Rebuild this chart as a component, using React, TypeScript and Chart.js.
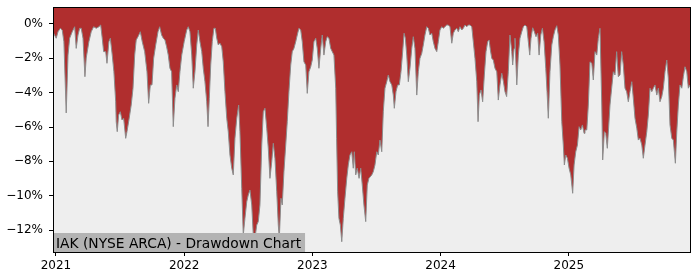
import { useEffect, useRef } from 'react';
import { Chart, registerables } from 'chart.js';
Chart.register(...registerables);

// Time in decimal years, drawdown in percent
const t2021 = [2020.977,2021.002,2021.016,2021.034,2021.049,2021.062,2021.080,2021.094,2021.107,2021.127,2021.146,2021.158,2021.172,2021.185,2021.197,2021.211,2021.226,2021.236,2021.257,2021.275,2021.294,2021.314,2021.335,2021.349,2021.361,2021.372,2021.388,2021.398,2021.413,2021.424,2021.439,2021.452,2021.466,2021.470,2021.478,2021.489,2021.502,2021.515,2021.528,2021.544,2021.554,2021.569,2021.587,2021.601,2021.614,2021.626,2021.640,2021.658,2021.673,2021.692,2021.710,2021.723,2021.736,2021.749,2021.762,2021.778,2021.796,2021.809,2021.824,2021.837,2021.850,2021.863,2021.876,2021.889,2021.902,2021.915,2021.928,2021.942,2021.954,2021.967,2021.981];
const d2021 = [-0.47,-0.83,-0.45,-0.25,-0.35,-1.03,-5.18,-1.81,-0.83,-0.45,-0.16,-1.42,-0.64,-0.25,-0.25,-0.83,-3.07,-1.98,-1.03,-0.45,-0.16,-0.25,-0.16,-0.06,-0.83,-1.61,-1.61,-2.29,-1.03,-0.83,-1.81,-2.78,-4.53,-5.69,-6.27,-5.30,-5.11,-5.59,-5.49,-6.66,-6.27,-5.59,-4.72,-3.74,-1.81,-0.93,-0.74,-0.45,-1.03,-1.61,-2.78,-4.62,-3.55,-3.55,-2.00,-1.22,-0.45,-0.16,-0.64,-0.83,-0.93,-1.32,-1.81,-2.58,-2.78,-5.98,-4.33,-3.55,-3.94,-2.78,-1.81];

const t2022 = [2022.000,2022.020,2022.032,2022.045,2022.059,2022.071,2022.084,2022.098,2022.110,2022.123,2022.137,2022.149,2022.162,2022.176,2022.186,2022.196,2022.207,2022.219,2022.232,2022.243,2022.254,2022.266,2022.279,2022.293,2022.305,2022.318,2022.332,2022.344,2022.357,2022.371,2022.383,2022.396,2022.410,2022.425,2022.435,2022.449,2022.461,2022.474,2022.488,2022.500,2022.513,2022.527,2022.539,2022.552,2022.566,2022.578,2022.591,2022.605,2022.617,2022.630,2022.644,2022.656,2022.669,2022.683,2022.695,2022.708,2022.722,2022.734,2022.742,2022.755,2022.765,2022.778,2022.792,2022.804,2022.817,2022.831,2022.843,2022.856,2022.870,2022.882,2022.895,2022.909,2022.921,2022.934,2022.948,2022.960,2022.973,2022.987,2022.999];
const d2022 = [-1.03,-0.35,-0.16,-0.45,-1.81,-3.74,-2.78,-1.22,-0.35,-1.03,-1.61,-2.58,-3.36,-4.53,-5.98,-4.33,-2.39,-1.03,-0.25,-0.25,-0.83,-1.22,-1.12,-1.32,-2.20,-3.94,-5.49,-6.27,-7.63,-8.40,-8.79,-6.66,-5.49,-4.72,-6.27,-9.57,-12.29,-11.32,-10.35,-9.96,-9.67,-10.54,-12.29,-12.48,-11.71,-11.51,-10.54,-7.05,-5.11,-4.91,-6.07,-7.24,-8.99,-8.02,-6.95,-7.82,-9.77,-11.71,-12.48,-10.15,-10.54,-8.60,-7.05,-5.69,-3.94,-2.39,-1.61,-1.42,-1.03,-0.64,-0.25,-0.35,-1.03,-2.20,-2.39,-4.04,-2.78,-2.49,-2.10];

const t2023 = [2023.012,2023.026,2023.038,2023.051,2023.065,2023.077,2023.090,2023.104,2023.116,2023.129,2023.143,2023.155,2023.168,2023.182,2023.189,2023.197,2023.207,2023.218,2023.229,2023.241,2023.254,2023.268,2023.280,2023.293,2023.307,2023.319,2023.327,2023.338,2023.350,2023.364,2023.377,2023.389,2023.402,2023.416,2023.428,2023.441,2023.463,2023.475,2023.488,2023.502,2023.514,2023.527,2023.541,2023.553,2023.566,2023.580,2023.592,2023.605,2023.619,2023.631,2023.639,2023.652,2023.665,2023.678,2023.691,2023.704,2023.715,2023.725,2023.736,2023.748,2023.761,2023.775,2023.787,2023.800,2023.814,2023.826,2023.839,2023.853,2023.865,2023.878,2023.892,2023.904,2023.917,2023.931,2023.943,2023.956,2023.970,2023.982,2023.995];
const d2023 = [-1.03,-0.83,-1.42,-2.58,-1.42,-0.64,-1.81,-1.03,-0.74,-0.83,-1.42,-1.61,-1.81,-3.74,-6.66,-9.77,-11.32,-11.71,-12.68,-11.32,-10.15,-8.99,-8.21,-7.63,-7.44,-8.40,-7.44,-8.79,-8.40,-8.99,-8.40,-9.38,-10.54,-11.51,-9.38,-8.99,-8.79,-8.60,-8.21,-7.44,-7.63,-6.76,-7.44,-5.11,-3.74,-3.36,-2.97,-3.36,-3.55,-4.14,-4.91,-3.94,-3.55,-3.55,-2.78,-1.61,-0.54,-0.83,-1.81,-3.36,-2.58,-1.42,-0.74,-1.42,-4.14,-2.78,-2.00,-1.71,-1.22,-0.64,-0.16,-0.25,-0.64,-0.54,-1.03,-1.42,-1.61,-1.03,-0.35];

const t2024 = [2024.009,2024.021,2024.034,2024.048,2024.060,2024.073,2024.087,2024.099,2024.112,2024.126,2024.138,2024.151,2024.165,2024.177,2024.190,2024.204,2024.216,2024.229,2024.243,2024.255,2024.268,2024.282,2024.292,2024.302,2024.315,2024.328,2024.341,2024.354,2024.367,2024.378,2024.388,2024.399,2024.411,2024.424,2024.438,2024.450,2024.463,2024.477,2024.490,2024.502,2024.515,2024.528,2024.541,2024.555,2024.562,2024.573,2024.580,2024.594,2024.606,2024.619,2024.633,2024.645,2024.658,2024.672,2024.684,2024.695,2024.705,2024.718,2024.731,2024.744,2024.757,2024.768,2024.781,2024.794,2024.807,2024.820,2024.830,2024.840,2024.853,2024.867,2024.879,2024.892,2024.906,2024.918,2024.931,2024.945,2024.957,2024.965,2024.976,2024.989];
const d2024 = [-0.16,-0.25,-0.16,-0.06,-0.06,-0.16,-1.12,-0.54,-0.35,-0.25,-0.45,-0.16,-0.35,-0.25,-0.06,-0.16,-0.06,-0.06,-0.16,-1.03,-2.00,-3.36,-5.69,-4.14,-3.84,-4.53,-2.97,-1.61,-1.03,-0.93,-1.51,-2.00,-2.10,-2.58,-2.78,-4.43,-3.55,-2.87,-3.36,-3.94,-4.23,-2.78,-0.64,-1.61,-2.39,-1.42,-0.83,-3.55,-1.81,-0.83,-0.45,-0.16,-0.06,-0.16,-1.03,-1.81,-0.83,-0.22,-0.45,-0.74,-0.54,-1.81,-0.64,-0.25,-1.03,-2.58,-3.94,-5.49,-2.78,-1.22,-0.74,-0.35,-0.10,-0.64,-2.39,-5.69,-7.05,-8.21,-7.63,-7.82];

const t2025 = [2025.002,2025.015,2025.030,2025.041,2025.054,2025.067,2025.080,2025.093,2025.106,2025.119,2025.126,2025.140,2025.152,2025.165,2025.179,2025.191,2025.204,2025.218,2025.230,2025.243,2025.257,2025.264,2025.277,2025.288,2025.300,2025.310,2025.321,2025.334,2025.347,2025.360,2025.373,2025.386,2025.399,2025.412,2025.425,2025.438,2025.451,2025.464,2025.477,2025.491,2025.503,2025.516,2025.530,2025.542,2025.555,2025.569,2025.581,2025.594,2025.608,2025.620,2025.633,2025.647,2025.659,2025.672,2025.686,2025.698,2025.711,2025.725,2025.737,2025.750,2025.764,2025.776,2025.789,2025.803,2025.815,2025.831,2025.842,2025.854,2025.867,2025.881,2025.893,2025.906,2025.920,2025.932,2025.945];
const d2025 = [-8.40,-8.79,-9.86,-8.21,-7.44,-7.05,-5.98,-6.17,-5.88,-6.37,-6.17,-6.17,-4.72,-2.20,-2.29,-3.26,-1.61,-1.81,-0.83,-0.25,-4.72,-7.92,-6.27,-6.37,-7.24,-6.07,-4.72,-3.74,-2.78,-2.97,-1.61,-3.07,-2.97,-1.61,-2.39,-3.74,-3.94,-4.53,-3.94,-3.36,-4.33,-5.49,-6.07,-6.76,-6.66,-7.05,-7.82,-7.05,-6.27,-5.30,-3.74,-3.94,-3.74,-3.55,-4.14,-3.74,-4.53,-4.23,-3.74,-2.78,-2.10,-3.16,-5.88,-6.66,-6.76,-8.11,-6.27,-4.72,-3.55,-3.74,-3.07,-2.49,-2.78,-3.74,-3.55];

const yearTicks = [2021, 2022, 2023, 2024, 2025];
const pctTicks = [0, -2, -4, -6, -8, -10, -12];
const xRange = [2020.977, 2025.945];
const yRange = [-13.28, 0.99];
const chartTitle = 'IAK (NYSE ARCA) - Drawdown Chart';

const FONT = '"DejaVu Sans", sans-serif';

function buildPoints() {
  const pairs: [number[], number[]][] = [
    [t2021, d2021], [t2022, d2022], [t2023, d2023], [t2024, d2024], [t2025, d2025],
  ];
  const pts: { x: number; y: number }[] = [];
  for (const [ts, ds] of pairs) {
    const n = Math.min(ts.length, ds.length);
    for (let i = 0; i < n; i++) pts.push({ x: ts[i], y: ds[i] });
  }
  return pts;
}

const framePlugin = {
  id: 'framePlugin',
  beforeDraw(chart: any) {
    const { ctx, chartArea: a } = chart;
    ctx.save();
    ctx.fillStyle = '#ffffff';
    ctx.fillRect(0, 0, chart.width, chart.height);
    ctx.fillStyle = '#eeeeee';
    ctx.fillRect(a.left, a.top, a.right - a.left, a.bottom - a.top);
    ctx.restore();
  },
  afterDatasetsDraw(chart: any) {
    const { ctx, chartArea: a } = chart;
    ctx.save();
    ctx.font = `13.8px ${FONT}`;
    const w = ctx.measureText(chartTitle).width;
    const h = 19;
    ctx.fillStyle = '#b3b3b3';
    ctx.fillRect(a.left, a.bottom - h, w + 7, h);
    ctx.fillStyle = '#000000';
    ctx.textBaseline = 'alphabetic';
    ctx.fillText(chartTitle, a.left + 3, a.bottom - 4.5);
    ctx.strokeStyle = '#000000';
    ctx.lineWidth = 1;
    ctx.strokeRect(a.left + 0.5, a.top + 0.5, a.right - a.left, a.bottom - a.top);
    ctx.restore();
  },
};

export default function App() {
  const ref = useRef<HTMLCanvasElement | null>(null);
  useEffect(() => {
    document.body.style.margin = '0';
    const canvas = ref.current;
    if (!canvas) return;
    const chart = new Chart(canvas, {
      type: 'line',
      data: {
        datasets: [
          {
            data: buildPoints(),
            parsing: false,
            fill: 'end',
            backgroundColor: '#b02e2e',
            borderColor: '#8c8c8c',
            borderWidth: 1,
            pointRadius: 0,
            tension: 0,
          },
        ],
      },
      options: {
        animation: false,
        responsive: false,
        devicePixelRatio: 1,
        layout: { padding: { top: 7, right: 10, left: 0, bottom: 0 } },
        plugins: { legend: { display: false }, tooltip: { enabled: false } },
        scales: {
          x: {
            type: 'linear',
            min: xRange[0],
            max: xRange[1],
            afterBuildTicks: (s: any) => { s.ticks = yearTicks.map((v) => ({ value: v })); },
            afterFit: (s: any) => { s.height = 28; s.paddingLeft = 0; s.paddingRight = 0; },
            ticks: {
              callback: (v: any) => String(v),
              font: { family: FONT, size: 12 },
              color: '#000',
              padding: 3,
              maxRotation: 0,
              autoSkip: false,
            },
            grid: { display: true, drawOnChartArea: false, drawTicks: true, tickLength: 4, color: '#000' },
            border: { display: false },
          },
          y: {
            type: 'linear',
            min: yRange[0],
            max: yRange[1],
            afterBuildTicks: (s: any) => { s.ticks = pctTicks.map((v) => ({ value: v })); },
            afterFit: (s: any) => { s.width = 53; s.paddingTop = 0; s.paddingBottom = 0; },
            ticks: {
              callback: (v: any) => (v < 0 ? '\u2212' : '') + Math.abs(v) + '%',
              font: { family: FONT, size: 12 },
              color: '#000',
              padding: 6,
              autoSkip: false,
            },
            grid: { display: true, drawOnChartArea: false, drawTicks: true, tickLength: 4, color: '#000' },
            border: { display: false },
          },
        },
      },
      plugins: [framePlugin],
    });
    return () => chart.destroy();
  }, []);
  return <canvas ref={ref} width={700} height={280} style={{ display: 'block', width: 700, height: 280 }} />;
}
